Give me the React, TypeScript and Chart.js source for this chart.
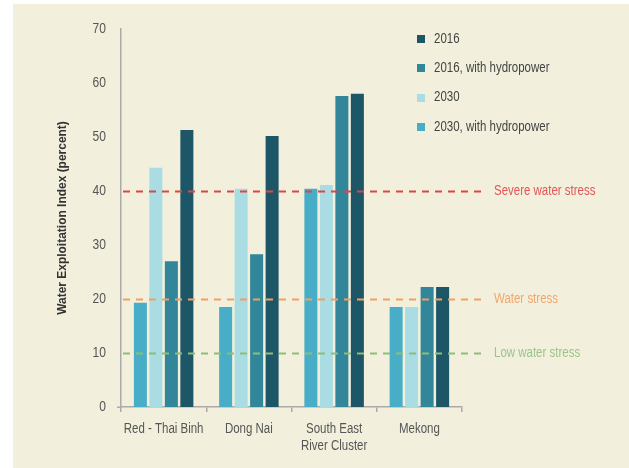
import React, { useEffect, useRef } from "react";
import { Chart, registerables } from "chart.js";

Chart.register(...registerables);

const categories: string[][] = [["Red - Thai Binh"], ["Dong Nai"], ["South East", "River Cluster"], ["Mekong"]];
const seriesNames = ["2030, with hydropower", "2030", "2016, with hydropower", "2016"];
const values2030Hydro = [19.3, 18.5, 40.4, 18.5];
const values2030 = [44.3, 40.4, 41.1, 18.5];
const values2016Hydro = [27.0, 28.3, 57.6, 22.2];
const values2016 = [51.3, 50.2, 58.0, 22.2];
const seriesColors = ["#48AEC7", "#A9DCE3", "#31869A", "#1D5666"];

const thresholdValues = [40, 20, 10];
const thresholdLabels = ["Severe water stress", "Water stress", "Low water stress"];
const thresholdLineColors = ["#E04545", "#EFA062", "#8DBE78"];
const thresholdTextColors = ["#E35555", "#F2A56E", "#9CC48A"];

const yTicks = [0, 10, 20, 30, 40, 50, 60, 70];
const yTitle = "Water Exploitation Index (percent)";

const FONT = "'Liberation Sans', Arial, sans-serif";
const SX = 0.82;

function drawText(ctx: CanvasRenderingContext2D, text: string, x: number, y: number, align: CanvasTextAlign, font: string, color: string, sx = SX) {
  ctx.save();
  ctx.translate(x, y);
  ctx.scale(sx, 1);
  ctx.font = font;
  ctx.fillStyle = color;
  ctx.textAlign = align;
  ctx.textBaseline = "middle";
  ctx.fillText(text, 0, 0);
  ctx.restore();
}

const overlayPlugin = {
  id: "overlay",
  afterDatasetsDraw(chart: any) {
    const { ctx, chartArea, scales } = chart;
    const y = scales.y;
    const x = scales.x;
    const f14 = `14px ${FONT}`;
    ctx.save();
    // small extension of the x axis line to the left
    ctx.strokeStyle = "#AAAAAA";
    ctx.lineWidth = 1.5;
    ctx.beginPath();
    ctx.moveTo(chartArea.left - 4, chartArea.bottom + 0.25);
    ctx.lineTo(chartArea.left, chartArea.bottom + 0.25);
    ctx.stroke();
    // threshold lines
    thresholdValues.forEach((v, i) => {
      const py = Math.round(y.getPixelForValue(v)) + 0.5;
      ctx.beginPath();
      ctx.setLineDash([7, 6]);
      ctx.lineWidth = 2;
      ctx.strokeStyle = thresholdLineColors[i];
      ctx.moveTo(chartArea.left + 2, py);
      ctx.lineTo(chartArea.right + 21, py);
      ctx.stroke();
      ctx.setLineDash([]);
      drawText(ctx, thresholdLabels[i], chartArea.right + 32, py, "left", f14, thresholdTextColors[i]);
    });
    // y tick labels
    yTicks.forEach((v) => {
      drawText(ctx, String(v), chartArea.left - 15, y.getPixelForValue(v), "right", f14, "#555555", 0.86);
    });
    // x tick labels
    categories.forEach((lines, i) => {
      const cx = x.getPixelForTick(i);
      lines.forEach((t, j) => {
        drawText(ctx, t, cx, chartArea.bottom + 22 + j * 17, "center", f14, "#555555");
      });
    });
    // y title
    ctx.save();
    ctx.translate(49, (chartArea.top + chartArea.bottom) / 2);
    ctx.rotate(-Math.PI / 2);
    drawText(ctx, yTitle, 0, 0, "center", `bold 13px ${FONT}`, "#333333", 0.92);
    ctx.restore();
    // legend (reversed order)
    const ds = chart.data.datasets;
    let k = 0;
    for (let i = ds.length - 1; i >= 0; i--) {
      const cy = 35 + k * 29.3;
      ctx.fillStyle = ds[i].backgroundColor;
      ctx.fillRect(404, Math.round(cy - 4), 8, 8);
      drawText(ctx, ds[i].label, 421, cy, "left", f14, "#444444");
      k++;
    }
    ctx.restore();
  },
};

export default function App() {
  const ref = useRef<HTMLCanvasElement | null>(null);
  useEffect(() => {
    if (!ref.current) return;
    const chart = new Chart(ref.current, {
      type: "bar",
      data: {
        labels: categories.map((c) => c.join(" ")),
        datasets: [values2030Hydro, values2030, values2016Hydro, values2016].map((d, i) => ({
          label: seriesNames[i],
          data: d,
          backgroundColor: seriesColors[i],
          borderWidth: 0,
          categoryPercentage: 0.727,
          barPercentage: 0.84,
        })),
      },
      options: {
        responsive: false,
        animation: false,
        layout: { padding: { left: 0, top: 25, right: 167, bottom: 0 } },
        plugins: { legend: { display: false }, tooltip: { enabled: false } },
        scales: {
          x: {
            grid: { drawOnChartArea: false, drawTicks: true, tickLength: 5, offset: true, color: "#AAAAAA", lineWidth: 1.5 },
            border: { display: true, color: "#AAAAAA", width: 1.5 },
            ticks: { display: false, autoSkip: false },
            afterFit: (s: any) => { s.height = 61; },
          },
          y: {
            min: 0,
            max: 70,
            afterBuildTicks: (s: any) => { s.ticks = yTicks.map((v) => ({ value: v })); },
            grid: { display: false, drawTicks: false },
            border: { display: true, color: "#AAAAAA", width: 1.5 },
            ticks: { display: false },
            afterFit: (s: any) => { s.width = 108; },
          },
        },
      },
      plugins: [overlayPlugin],
    });
    return () => chart.destroy();
  }, []);
  return (
    <div style={{ position: "absolute", left: 13, top: 4, width: 616, height: 464, background: "#F2F0DD" }}>
      <canvas ref={ref} width={616} height={464} style={{ display: "block" }} />
    </div>
  );
}
